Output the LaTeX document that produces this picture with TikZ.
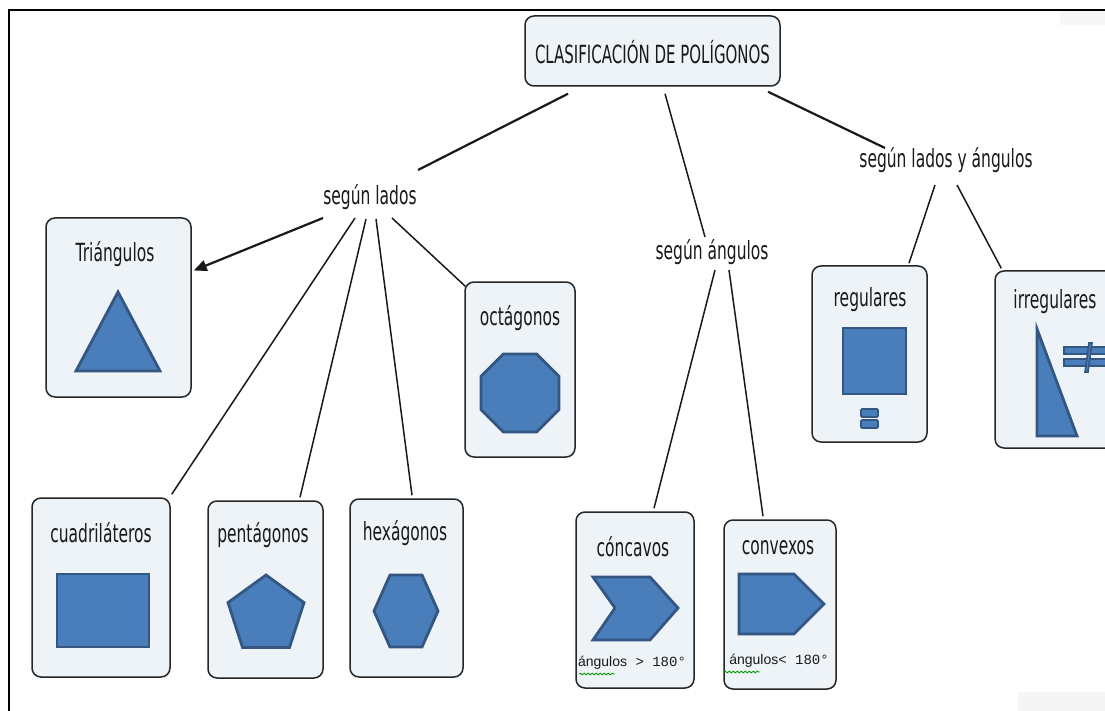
\documentclass[tikz,border=0pt]{standalone}
\usepackage{fontspec}
\setmainfont{Liberation Sans}
\newfontfamily\labfont{DejaVu Sans}
\newfontfamily\monof{Liberation Mono}
\usetikzlibrary{arrows.meta,calc,decorations.pathmorphing}
\definecolor{boxfill}{RGB}{238,243,247}
\definecolor{shpfill}{RGB}{74,126,187}
\definecolor{shpdraw}{RGB}{52,86,130}
\definecolor{txt}{RGB}{25,25,25}
\newcommand{\nar}[1]{\scalebox{0.62}[1]{#1}}
\newcommand{\narr}[1]{\scalebox{0.6}[1]{#1}}
\begin{document}
\begin{tikzpicture}[x=1pt,y=-1pt,
  box/.style={draw=black!85,line width=1.5pt,rounded corners=9pt,fill=boxfill,inner sep=0pt},
  lbl/.style={text=txt,font=\labfont\fontsize{25}{27}\selectfont,inner sep=2pt},
  anglbl/.style={text=txt,font=\fontsize{14}{16}\selectfont,inner sep=1pt},
  shp/.style={fill=shpfill,draw=shpdraw,line width=2.8pt,line join=miter},
  conn/.style={line width=1.5pt,draw=black!90},
  thickconn/.style={line width=2.2pt,draw=black!90},
  spell/.style={decorate,decoration={snake,amplitude=0.9pt,segment length=4pt},draw=green!60!black,line width=0.8pt}
]
\useasboundingbox (0,0) rectangle (1105,711);
\clip (0,0) rectangle (1105,711);
\fill[white] (0,0) rectangle (1105,711);
% faint artefacts
\fill[gray!6] (1060,11) rectangle (1105,25);
\fill[gray!8] (1018,692) rectangle (1105,711);
% frame
\draw[line width=2.5pt] (1105,10) -- (9,10) -- (9,711);

% boxes
\node[box,minimum width=255,minimum height=70] (root) at (652.5,51) {};
\node[box,minimum width=145,minimum height=179] (tri) at (118.5,307.5) {};
\node[box,minimum width=110,minimum height=175] (oct) at (520,369.5) {};
\node[box,minimum width=138,minimum height=179] (cuad) at (101,587.5) {};
\node[box,minimum width=115,minimum height=177] (pent) at (265.5,589.5) {};
\node[box,minimum width=113,minimum height=178] (hex) at (406.5,588) {};
\node[box,minimum width=118,minimum height=176] (conc) at (635,600) {};
\node[box,minimum width=112,minimum height=169] (conv) at (780,604.5) {};
\node[box,minimum width=115,minimum height=176] (reg) at (869.5,354) {};
\node[box,minimum width=130,minimum height=177] (irr) at (1060,359.5) {};

% labels
\node[lbl] (troot) at (652.5,52) {\narr{CLASIFICACIÓN DE POLÍGONOS}};
\node[lbl] (lados) at (370,197) {\nar{según lados}};
\node[lbl] (ang) at (712,252) {\nar{según ángulos}};
\node[lbl] (ladang) at (946,160) {\nar{según lados y ángulos}};
\node[lbl] (ttri) at (115,254) {\nar{Triángulos}};
\node[lbl] (toct) at (520,318) {\nar{octágonos}};
\node[lbl] (tcuad) at (101,533) {\nar{cuadriláteros}};
\node[lbl] (tpent) at (263,535) {\nar{pentágonos}};
\node[lbl] (thex) at (405,533) {\nar{hexágonos}};
\node[lbl] (tconc) at (633,547) {\nar{cóncavos}};
\node[lbl] (tconv) at (778,548) {\nar{convexos}};
\node[lbl] (treg) at (870,300) {\nar{regulares}};
\node[lbl] (tirr) at (1055,302) {\nar{irregulares}};
\node[anglbl] (aconc) at (632,663) {ángulos{\monof\ >\ 180°}};
\node[anglbl] (aconv) at (779,661) {ángulos{\monof<\ 180°}};
\draw[spell] (579,674) -- (615,674);
\draw[spell] (724,672) -- (760,672);

% shapes
\draw[shp] (118,292) -- (160,371) -- (76,371) -- cycle;
\draw[shp] (503.4,354) -- (536.6,354) -- (559,376.4) -- (559,409.6) -- (536.6,432) -- (503.4,432) -- (481,409.6) -- (481,376.4) -- cycle;
\draw[shp] (57,574) rectangle (149,647);
\draw[shp] (266,575) -- (304,602.6) -- (289.5,647.4) -- (242.5,647.4) -- (228,602.6) -- cycle;
\draw[shp] (390,575) -- (422,575) -- (438,611) -- (422,647) -- (390,647) -- (374,611) -- cycle;
\draw[shp] (593,577) -- (650,577) -- (678,608) -- (650,640) -- (593,640) -- (615,608) -- cycle;
\draw[shp] (739,574) -- (794,574) -- (824,604) -- (794,634) -- (739,634) -- cycle;
\draw[shp] (843,328) rectangle (906,394);
\draw[shp,line width=1.6pt,rounded corners=1pt] (861,409) rectangle (878,417);
\draw[shp,line width=1.6pt,rounded corners=1pt] (861,420) rectangle (878,428);
\draw[shp] (1037,329) -- (1077,436) -- (1037,436) -- cycle;
\draw[shp,line width=1.6pt] (1064,347) rectangle (1110,354);
\draw[shp,line width=1.6pt] (1064,359) rectangle (1110,366);
\draw[shp,line width=1.6pt] (1085,372) -- (1089,343) -- (1092,343) -- (1088,372) -- cycle;

% connectors
\draw[thickconn] ($(root.south)+(-84.5,7)$) -- ($(lados)+(48,-27)$);
\draw[conn] ($(root.south)+(12.5,7)$) -- ($(ang)+(-7,-15)$);
\draw[thickconn] ($(root.south)+(115.5,5)$) -- ($(ladang)+(-61,-12)$);
\draw[thickconn,-{Triangle[length=13pt,width=11pt]}] ($(lados)+(-47,21)$) -- ($(tri.east)+(2,-37)$);
\draw[conn] ($(lados)+(-15,21)$) -- ($(cuad.north east)+(1,-3)$);
\draw[conn] ($(lados)+(-4,22)$) -- ($(pent.north)+(34.5,-3)$);
\draw[conn] ($(lados)+(6,22)$) -- ($(hex.north)+(5.5,-3)$);
\draw[conn] ($(lados)+(22,21)$) -- ($(oct.north west)+(1,5)$);
\draw[conn] ($(ang)+(3,18)$) -- ($(conc.north)+(19,-3)$);
\draw[conn] ($(ang)+(17,18)$) -- ($(conv.north)+(-17,-3)$);
\draw[conn] ($(ladang)+(-11,25)$) -- ($(reg.north)+(39.5,-2)$);
\draw[conn] ($(ladang)+(11,25)$) -- ($(irr.north west)+(7,-2)$);
\end{tikzpicture}
\end{document}
